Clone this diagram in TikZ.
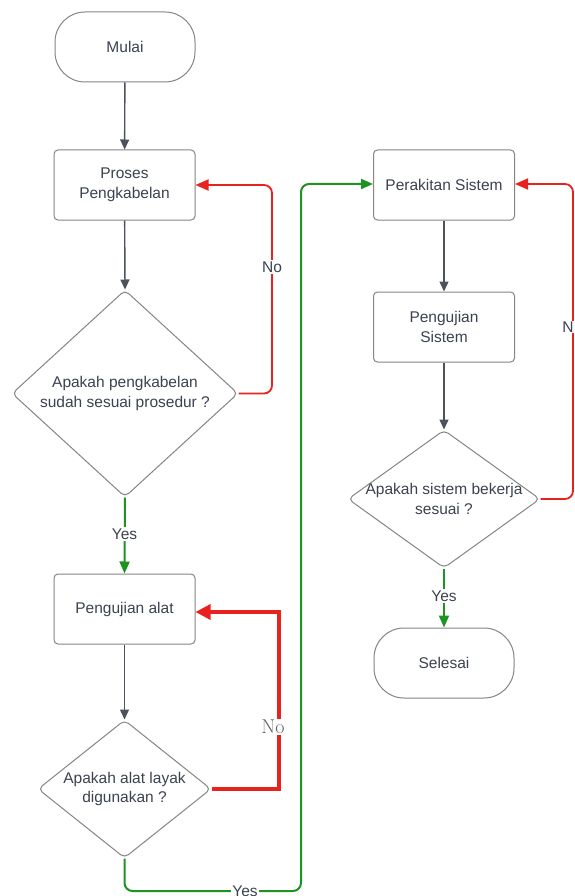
\documentclass[tikz,border=0pt]{standalone}
\usepackage{fontspec}
\setmainfont{Liberation Sans}
\newfontfamily\serifnote{Latin Modern Roman}
\usetikzlibrary{shapes.geometric,arrows.meta}
\definecolor{ink}{HTML}{3B4250}
\definecolor{edge}{HTML}{858585}
\definecolor{flow}{HTML}{4D525C}
\definecolor{nored}{HTML}{E8221F}
\definecolor{yesgreen}{HTML}{1F9321}
\tikzset{
  x=1pt, y=-1pt,
  every node/.style={font=\fontsize{15.5}{19.5}\selectfont, text=ink},
  terminal/.style={draw=edge, line width=1pt, rounded corners=30pt, minimum width=140pt, minimum height=70pt, inner sep=0pt},
  process/.style={draw=edge, line width=1pt, rounded corners=4pt, minimum width=141pt, minimum height=70pt, inner sep=0pt, align=center},
  decision/.style={draw=edge, line width=1pt, shape=diamond, rounded corners=5pt, inner sep=0pt},
  qtext/.style={align=center, inner sep=0pt},
  flowarrow/.style={draw=flow, line width=1.4pt, -{Triangle[length=10pt,width=9pt]}},
  noarrow/.style={draw=nored, line width=1.8pt, rounded corners=8pt, -{Triangle[length=13pt,width=11pt]}},
  noarrowbold/.style={draw=nored, line width=3.2pt, -{Triangle[length=15pt,width=15pt]}},
  yesarrow/.style={draw=yesgreen, line width=2pt, rounded corners=8pt, -{Triangle[length=12pt,width=10pt]}},
  tag/.style={fill=white, inner sep=1.5pt}
}
\begin{document}
\begin{tikzpicture}
\clip (0,0) rectangle (574,896);
\fill[white] (0,0) rectangle (574,896);

% left column
\node[terminal] (start) at (125,47) {Mulai};
\node[process] (wiring) at (124.5,185) {Proses\\Pengkabelan};
\node[decision, minimum width=226pt, minimum height=207pt] (q1) at (125,393.5) {};
\node[qtext] at (q1.center) {Apakah pengkabelan\\sudah sesuai prosedur ?};
\node[process] (tooltest) at (124.5,609) {Pengujian alat};
\node[decision, minimum width=173pt, minimum height=138pt] (q2) at (124.5,789) {};
\node[qtext] at (q2.center) {Apakah alat layak\\digunakan ?};

% right column
\node[process] (assembly) at (444,185) {Perakitan Sistem};
\node[process] (systest) at (444,327) {Pengujian\\Sistem};
\node[decision, minimum width=192pt, minimum height=138pt] (q3) at (444,499) {};
\node[qtext] at (q3.center) {Apakah sistem bekerja\\sesuai ?};
\node[terminal] (finish) at (444,663) {Selesai};

% main flow
\draw[flowarrow] (start) -- (wiring);
\draw[flowarrow] (wiring) -- (q1.north);
\draw[flowarrow] (tooltest) -- (q2.north);
\draw[flowarrow] (assembly) -- (systest);
\draw[flowarrow] (systest) -- (q3.north);

% rejection loops
\coordinate (r1a) at (272,393.5);
\coordinate (r1b) at (272,185);
\draw[noarrow] (q1.east) -- (r1a) -- (r1b) -- (wiring.east);
\node[tag] at (272,267) {No};

\coordinate (r2a) at (279,789);
\coordinate (r2b) at (279,612);
\draw[noarrowbold] (q2.east) -- (r2a) -- (r2b) -- (tooltest.east |- r2b);
\node[tag, font=\serifnote\fontsize{20}{22}\selectfont, text=black!62] at (273,727) {No};

\coordinate (r3a) at (573,499);
\coordinate (r3b) at (573,184);
\draw[noarrow] (q3.east) -- (r3a) -- (r3b) -- (assembly.east |- r3b);
\node[tag, inner sep=1pt] at (568,327) {N};

% acceptance paths
\draw[yesarrow] (q1.south) -- (tooltest.north);
\node[tag] at (124.5,534) {Yes};

\coordinate (g1) at (124.5,891);
\coordinate (g2) at (301,891);
\coordinate (g3) at (301,184);
\draw[yesarrow] (q2.south) -- (g1) -- (g2) -- (g3) -- (assembly.west |- g3);
\node[tag] at (245,891) {Yes};

\draw[yesarrow] (q3.south) -- (finish.north);
\node[tag] at (444,596) {Yes};
\end{tikzpicture}
\end{document}
